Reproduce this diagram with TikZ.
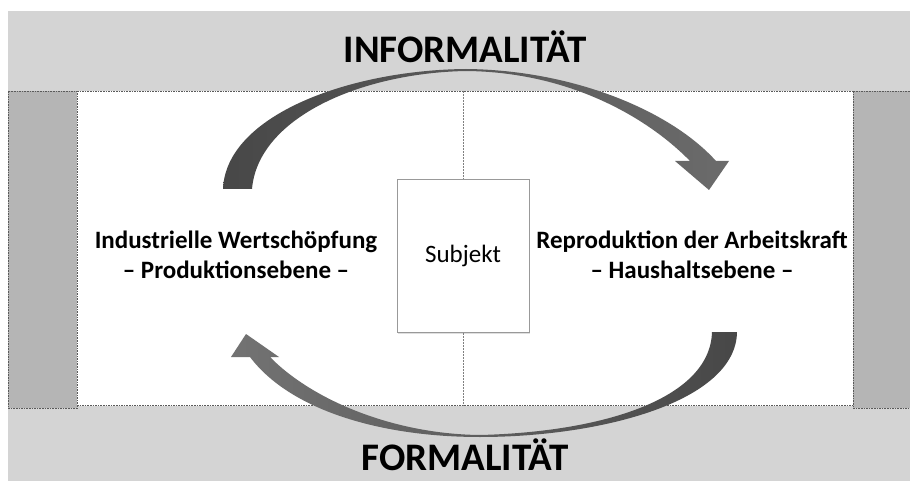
\documentclass[tikz,border=0pt]{standalone}
\usepackage{fontspec}
\setmainfont{Carlito}
\usetikzlibrary{shadows}
\definecolor{bandgray}{HTML}{D4D4D4}
\definecolor{bargray}{HTML}{B5B5B5}
\definecolor{dashgray}{HTML}{5A5A5A}
\tikzset{
  dotborder/.style={draw=dashgray, line width=0.8pt, dash pattern=on 1.6pt off 1pt},
  sidebar/.style={fill=bargray, dotborder},
  bigtitle/.style={font=\fontsize{39}{44}\selectfont\bfseries, inner sep=0pt},
  sidetext/.style={font=\fontsize{25}{30}\selectfont\bfseries, align=center, inner sep=0pt},
  subjbox/.style={draw=gray!80, line width=0.5pt, fill=white, minimum width=132pt, minimum height=153pt, font=\fontsize{25}{30}\selectfont, drop shadow={opacity=0.25, shadow xshift=1pt, shadow yshift=-1pt}},
  midline/.style={draw=gray, line width=0.5pt, dash pattern=on 1pt off 0.5pt},
  toparrow/.style={left color=black!72, middle color=black!38, right color=black!58, shading angle=90},
  botarrow/.style={left color=black!55, middle color=black!38, right color=black!72}
}
\begin{document}
\begin{tikzpicture}[x=1pt,y=-1pt]
\useasboundingbox (0,0) rectangle (910,481);
\fill[white] (0,0) rectangle (910,481);
% bands
\fill[bandgray] (8,11) rectangle (910,91);
\fill[bandgray] (8,406) rectangle (910,481);
\fill[white] (77,91) rectangle (853,406);
\draw[dotborder] (77,91) -- (853,91);
\draw[dotborder] (77,405) -- (853,405);
% side bars
\path[sidebar] (8,91) rectangle (77,408);
\path[sidebar] (853,91) rectangle (914,408);
% center line and subject box
\node[subjbox] (subj) at (463,256) {Subjekt};
\coordinate (ltop) at (463,91);
\coordinate (lbot) at (463,406);
\draw[midline] (ltop) -- (subj.north);
\draw[midline] (subj.south) -- (lbot);
% titles
\node[bigtitle] (inf) at (465,47) {INFORMALITÄT};
\node[bigtitle] (form) at (465,455) {FORMALITÄT};
% side texts
\node[sidetext] (ind) at (236,255) {Industrielle Wertschöpfung\\– Produktionsebene –};
\node[sidetext] (rep) at (692,255) {Reproduktion der Arbeitskraft\\– Haushaltsebene –};
% top arrow
\shade[toparrow] (223,189) .. controls (226,115) and (350,70) .. (466,69)
  .. controls (572,70) and (670,110) .. (716,161) -- (729,161) -- (709,190) -- (675,161) -- (690,161)
  .. controls (648,118) and (570,72) .. (466,71)
  .. controls (360,73) and (258,118) .. (252,189) -- cycle;
% bottom arrow
\shade[botarrow] (737,332) .. controls (736,402) and (600,437) .. (480,437)
  .. controls (380,437) and (290,410) .. (250,357) -- (231,357) -- (246,334) -- (279,357) -- (270,357)
  .. controls (310,398) and (390,434) .. (480,435)
  .. controls (600,432) and (710,400) .. (712,332) -- cycle;
\end{tikzpicture}
\end{document}
